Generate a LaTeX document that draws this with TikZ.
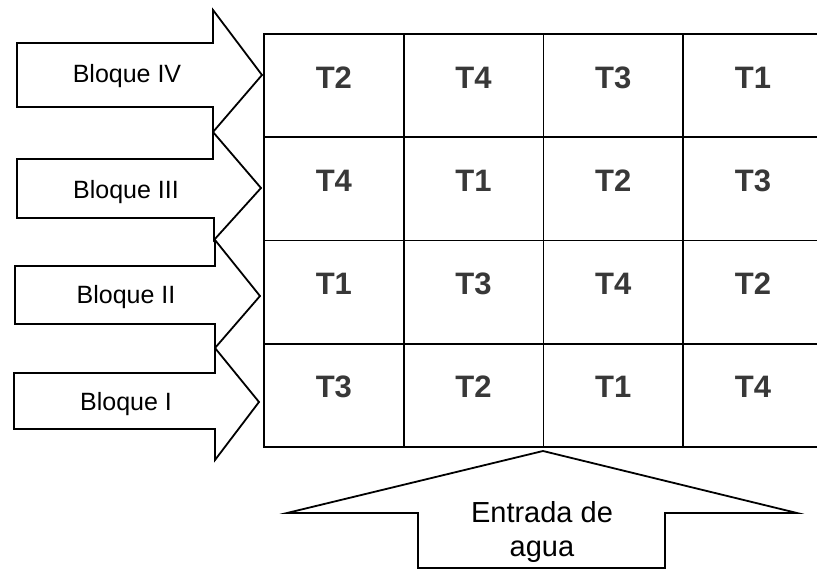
\documentclass[tikz,border=0pt]{standalone}
\usepackage{fontspec}
\setmainfont{Liberation Sans}
\usetikzlibrary{positioning}
\definecolor{celltext}{RGB}{56,56,56}

\begin{document}
\begin{tikzpicture}[
    x=1pt, y=-1pt,
    line width=1.8pt,
    every node/.style={align=center},
    cell/.style={draw, outer sep=0pt, minimum width=139.7pt, minimum height=103.25pt, text height=23pt, text depth=18pt, font=\fontsize{31}{37}\selectfont\bfseries, text=celltext},
    lastcell/.style={cell, minimum width=160pt},
    blockarrow/.style={draw, line join=miter},
    blocktext/.style={anchor=base, font=\fontsize{25}{30}\selectfont},
    inflow/.style={anchor=north, inner sep=0pt, font=\fontsize{29}{34}\selectfont}
]
\useasboundingbox (0,0) rectangle (817,570);
\clip (0,0) rectangle (817,570);

% field plots (the last column runs off the page)
\node[cell, anchor=north west] (c11) at (264,34) {T2};
\node[cell, right=0pt of c11] (c12) {T4};
\node[cell, right=0pt of c12] (c13) {T3};
\node[lastcell, right=0pt of c13] (c14) {T1\hspace*{20.2pt}};
\node[cell, below=0pt of c11] (c21) {T4};
\node[cell, right=0pt of c21] (c22) {T1};
\node[cell, right=0pt of c22] (c23) {T2};
\node[lastcell, right=0pt of c23] (c24) {T3\hspace*{20.2pt}};
\node[cell, below=0pt of c21] (c31) {T1};
\node[cell, right=0pt of c31] (c32) {T3};
\node[cell, right=0pt of c32] (c33) {T4};
\node[lastcell, right=0pt of c33] (c34) {T2\hspace*{20.2pt}};
\node[cell, below=0pt of c31] (c41) {T3};
\node[cell, right=0pt of c41] (c42) {T2};
\node[cell, right=0pt of c42] (c43) {T1};
\node[lastcell, right=0pt of c43] (c44) {T4\hspace*{20.2pt}};

% block arrows
\draw[blockarrow] (17,43) -- (213,43) -- (213,10) -- (262,75) -- (213,132) -- (213,107) -- (17,107) -- cycle;
\draw[blockarrow] (17,159) -- (213,159) -- (213,132) -- (261,188) -- (214,240) -- (214,218) -- (17,218) -- cycle;
\draw[blockarrow] (15,266) -- (215,266) -- (215,240) -- (260,296) -- (215,348) -- (215,324) -- (15,324) -- cycle;
\draw[blockarrow] (14,373) -- (215,373) -- (215,348) -- (259,402) -- (215,460) -- (215,429) -- (14,429) -- cycle;
\node[blocktext] (bIV) at (127,82) {Bloque IV};
\node[blocktext] (bIII) at (126,198) {Bloque III};
\node[blocktext] (bII) at (126,303) {Bloque II};
\node[blocktext] (bI) at (126,410) {Bloque I};

% water inlet
\draw[blockarrow] (543,451) -- (797,513) -- (665,513) -- (665,568) -- (418,568) -- (418,513) -- (287,513) -- cycle;
\node[inflow] (water) at (542,501) {Entrada de\\agua};
\end{tikzpicture}
\end{document}
